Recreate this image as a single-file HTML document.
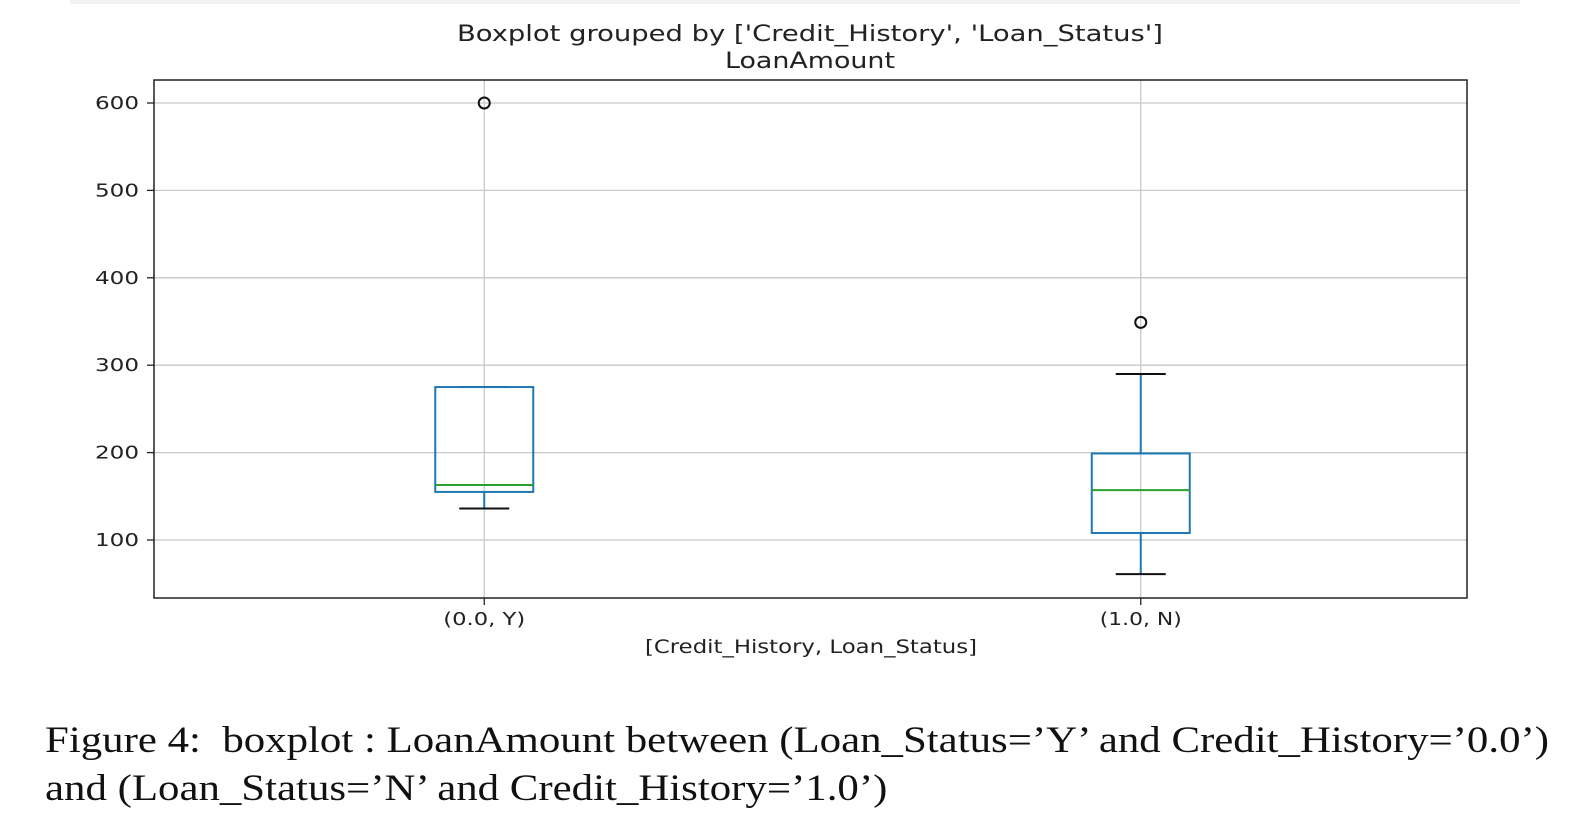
<!DOCTYPE html>
<html><head><meta charset="utf-8"><style>
body{margin:0;background:#fff;width:1576px;height:830px;overflow:hidden}
svg text{font-family:"DejaVu Sans","Liberation Sans",sans-serif;fill:#222}
.cap{position:absolute;left:45px;font-family:"Liberation Serif",serif;font-size:37px;color:#111;white-space:nowrap;transform:scaleX(1.158);transform-origin:0 0}
</style></head><body>
<div style="position:absolute;left:70px;top:0;width:1450px;height:4px;background:#f2f2f2"></div>
<svg id="chart" width="1576" height="700" style="position:absolute;left:0;top:0">
<text x="810" y="41" text-anchor="middle" font-size="22" textLength="706" lengthAdjust="spacingAndGlyphs">Boxplot grouped by ['Credit_History', 'Loan_Status']</text>
<text x="810" y="68" text-anchor="middle" font-size="22" textLength="170" lengthAdjust="spacingAndGlyphs">LoanAmount</text>
<text x="811" y="653" text-anchor="middle" font-size="19" textLength="332" lengthAdjust="spacingAndGlyphs">[Credit_History, Loan_Status]</text>
<g id="g"></g>
</svg>
<div class="cap" style="top:719px">Figure 4: &nbsp;boxplot : LoanAmount between (Loan_Status=’Y’ and Credit_History=’0.0’)</div>
<div class="cap" style="top:767px">and (Loan_Status=’N’ and Credit_History=’1.0’)</div>
<script>
const categories=["(0.0, Y)","(1.0, N)"];
const whiskerLow=[136,61];
const q1=[155,108];
const median=[163,157];
const q3=[275,199];
const whiskerHigh=[275,290];
const outliers=[[600],[349]];
const yTicks=[100,200,300,400,500,600];
const L=154,R=1467,T=80,B=598;
const y=v=>540-(v-100)*0.874;
const x=i=>L+(R-L)*(i+0.5)/categories.length+2;
const g=document.getElementById('g');
const NS="http://www.w3.org/2000/svg";
function mk(t,a,p){const e=document.createElementNS(NS,t);for(const k in a)e.setAttribute(k,a[k]);(p||g).appendChild(e);return e;}
yTicks.forEach(v=>{
 const l=mk('line',{x1:L,x2:R,y1:y(v),y2:y(v),stroke:'#c8c8c8','stroke-width':1.3});
 
 
 mk('line',{x1:L-7,x2:L,y1:y(v),y2:y(v),stroke:'#222','stroke-width':1.3});
 const t=mk('text',{x:L-15,y:y(v)+6,'text-anchor':'end','font-size':18,textLength:44,lengthAdjust:'spacingAndGlyphs'});t.textContent=v;
 
 
});
categories.forEach((c,i)=>{
 const cx=x(i),hw=49,cw=25;
 const gl=mk('line',{x1:cx,x2:cx,y1:T,y2:B,stroke:'#c8c8c8','stroke-width':1.3});
 
 
 mk('line',{x1:cx,x2:cx,y1:B,y2:B+7,stroke:'#222','stroke-width':1.3});
 const t=mk('text',{x:cx,y:B+27,'text-anchor':'middle','font-size':18,textLength:82,lengthAdjust:'spacingAndGlyphs'});t.textContent=c;
 
 
 const b='#1f77b4';
 mk('line',{x1:cx,x2:cx,y1:y(whiskerLow[i]),y2:y(q1[i]),stroke:b,'stroke-width':2});
 mk('line',{x1:cx,x2:cx,y1:y(q3[i]),y2:y(whiskerHigh[i]),stroke:b,'stroke-width':2});
 mk('line',{x1:cx-cw,x2:cx+cw,y1:y(whiskerLow[i]),y2:y(whiskerLow[i]),stroke:'#111','stroke-width':2});
 mk('line',{x1:cx-cw,x2:cx+cw,y1:y(whiskerHigh[i]),y2:y(whiskerHigh[i]),stroke:'#111','stroke-width':2});
 const r=mk('rect',{x:cx-hw,y:y(q3[i]),width:2*hw,height:y(q1[i])-y(q3[i]),fill:'none',stroke:b,'stroke-width':2});
 
 
 const m=mk('line',{x1:cx-hw,x2:cx+hw,y1:y(median[i]),y2:y(median[i]),stroke:'#2ca02c','stroke-width':2});
 
 
 outliers[i].forEach(v=>{const o=mk('circle',{cx:cx,cy:y(v),r:5.5,fill:'none',stroke:'#111','stroke-width':2});
  
  });
});
const f=mk('rect',{x:L,y:T,width:R-L,height:B-T,fill:'none',stroke:'#222','stroke-width':1.5});


</script>
</body></html>
